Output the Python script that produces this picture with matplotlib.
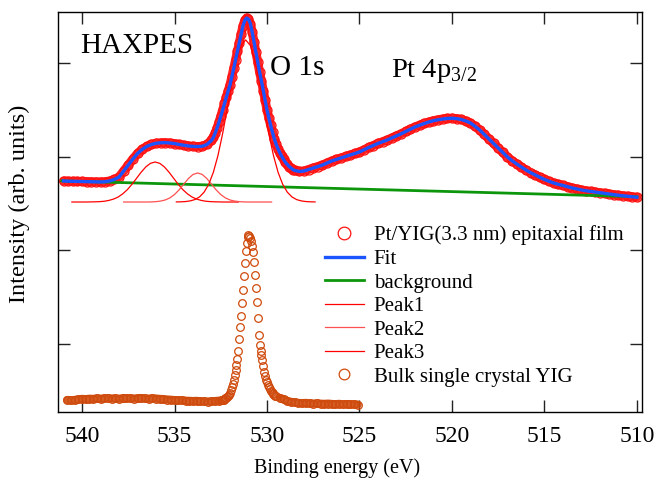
import numpy as np
import matplotlib.pyplot as plt

plt.rcParams['font.family'] = ['Liberation Serif', 'DejaVu Serif']
plt.rcParams['mathtext.fontset'] = 'custom'
plt.rcParams['mathtext.rm'] = 'Liberation Serif'

# Pt/YIG(3.3 nm) film: O 1s + Pt 4p3/2 region, binding energy in eV
film_energy = np.concatenate([np.linspace(541.0, 533.0, 33),
                              np.linspace(532.9, 528.6, 44),
                              np.linspace(528.5, 510.0, 75)])
film_counts = [
    2.740, 2.737, 2.736, 2.735, 2.734, 2.732, 2.731, 2.730, 2.729, 2.732,
    2.740, 2.756, 2.782, 2.846, 2.910, 2.974, 3.033, 3.076, 3.108, 3.129,
    3.142, 3.147, 3.149, 3.145, 3.139, 3.129, 3.121, 3.113, 3.109, 3.107,
    3.110, 3.129, 3.172,
    3.204, 3.252, 3.305, 3.364, 3.428, 3.497, 3.567, 3.636, 3.700, 3.764,
    3.850, 3.940, 4.031, 4.122, 4.212, 4.308, 4.394, 4.453, 4.479, 4.465,
    4.420, 4.330, 4.220, 4.115, 4.010, 3.903, 3.807, 3.705, 3.604, 3.497,
    3.412, 3.332, 3.257, 3.188, 3.129, 3.081, 3.038, 3.001, 2.969, 2.937,
    2.916, 2.894, 2.878, 2.862,
    2.852, 2.841, 2.846, 2.862, 2.878, 2.894, 2.910, 2.932, 2.953, 2.969,
    2.985, 3.001, 3.017, 3.033, 3.049, 3.073, 3.097, 3.118, 3.140, 3.158,
    3.177, 3.199, 3.220, 3.243, 3.268, 3.292, 3.316, 3.335, 3.353, 3.369,
    3.383, 3.393, 3.401, 3.407, 3.409, 3.405, 3.396, 3.380, 3.359, 3.323,
    3.284, 3.236, 3.188, 3.140, 3.092, 3.044, 2.996, 2.956, 2.921, 2.889,
    2.857, 2.829, 2.804, 2.779, 2.756, 2.736, 2.718, 2.704, 2.692, 2.678,
    2.665, 2.654, 2.644, 2.635, 2.628, 2.621, 2.615, 2.607, 2.601, 2.594,
    2.587, 2.582, 2.576, 2.571, 2.566]
# the fit sits on the data within its line width
fit_counts = film_counts

# linear background (end points)
bg_energy = [541.1, 510.0]
bg_counts = [2.740, 2.572]

# fitted components, drawn above a common offset
peak_offset = 2.515
peak1_energy = np.linspace(540.55, 531.55, 37)
peak1 = [0.000, 0.000, 0.000, 0.000, 0.001, 0.002, 0.004, 0.008, 0.017, 0.031,
         0.053, 0.087, 0.132, 0.189, 0.254, 0.319, 0.375, 0.413, 0.427, 0.413,
         0.375, 0.319, 0.254, 0.189, 0.132, 0.087, 0.053, 0.031, 0.017, 0.008,
         0.004, 0.002, 0.001, 0.000, 0.000, 0.000, 0.000]
peak2_energy = np.linspace(537.75, 529.75, 33)
peak2 = [0.000, 0.000, 0.000, 0.000, 0.000, 0.000, 0.001, 0.004, 0.010, 0.022,
         0.044, 0.080, 0.130, 0.191, 0.250, 0.294, 0.310, 0.294, 0.250, 0.191,
         0.130, 0.080, 0.044, 0.022, 0.010, 0.004, 0.001, 0.000, 0.000, 0.000,
         0.000, 0.000, 0.000]
peak3_energy = np.linspace(534.9, 527.4, 31)
peak3 = [0.001, 0.002, 0.005, 0.012, 0.026, 0.054, 0.105, 0.189, 0.317, 0.497,
         0.728, 0.995, 1.266, 1.507, 1.671, 1.730, 1.671, 1.507, 1.266, 0.995,
         0.728, 0.497, 0.317, 0.189, 0.105, 0.054, 0.026, 0.012, 0.005, 0.002,
         0.001]

# bulk single crystal YIG, O 1s
yig_energy_left = np.linspace(540.8, 532.6, 42)
yig_left = [0.402, 0.397, 0.402, 0.408, 0.413, 0.410, 0.415, 0.413, 0.418, 0.415,
            0.418, 0.421, 0.417, 0.419, 0.415, 0.420, 0.418, 0.421, 0.417, 0.419,
            0.422, 0.418, 0.415, 0.420, 0.417, 0.413, 0.410, 0.407, 0.404, 0.400,
            0.397, 0.399, 0.394, 0.392, 0.390, 0.392, 0.386, 0.388, 0.385, 0.387,
            0.390, 0.394]
yig_energy_peak = np.linspace(532.5, 529.5, 61)
yig_peak = [0.397, 0.402, 0.404, 0.407, 0.413, 0.418, 0.424, 0.431, 0.442, 0.456,
            0.477, 0.504, 0.536, 0.573, 0.616, 0.669, 0.723, 0.776, 0.840, 0.925,
            1.053, 1.181, 1.299, 1.438, 1.576, 1.726, 1.864, 1.993, 2.078, 2.137,
            2.163, 2.153, 2.131, 2.094, 2.046, 1.982, 1.875, 1.736, 1.598, 1.448,
            1.277, 1.096, 0.989, 0.925, 0.883, 0.829, 0.765, 0.704, 0.658, 0.616,
            0.589, 0.562, 0.536, 0.514, 0.498, 0.485, 0.474, 0.464, 0.456, 0.448,
            0.442]
yig_energy_right = np.linspace(529.3, 525.1, 22)
yig_right = [0.424, 0.408, 0.392, 0.381, 0.376, 0.370, 0.368, 0.370, 0.365, 0.363,
             0.366, 0.362, 0.360, 0.363, 0.359, 0.356, 0.360, 0.355, 0.358, 0.354,
             0.356, 0.353]

red = '#ff1010'
orange = '#cf4a0c'

fig = plt.figure(figsize=(6.59, 4.80), dpi=100)
ax = fig.add_axes([0.088, 0.1417, 0.886, 0.8333])

# film data: dense circles read as a thick band
ax.plot(film_energy, film_counts, color=red, lw=6.5, alpha=0.9, solid_capstyle='round')
ax.plot(film_energy, film_counts, 'o', mfc='none', mec=red, ms=6.5, mew=0.9,
        label='Pt/YIG(3.3 nm) epitaxial film')

ax.plot(bg_energy, bg_counts, color='#0c960c', lw=2.0, zorder=4, label='background')
ax.plot(peak1_energy, peak_offset + np.array(peak1), color='#ff0000', lw=0.9, zorder=4, label='Peak1')
ax.plot(peak2_energy, peak_offset + np.array(peak2), color='#ff5050', lw=0.9, zorder=4, label='Peak2')
ax.plot(peak3_energy, peak_offset + np.array(peak3), color='#ff0000', lw=0.9, zorder=4, label='Peak3')
ax.plot(film_energy, fit_counts, color='#1a55ff', lw=2.4, zorder=5, label='Fit')

for e, c in [(yig_energy_left, yig_left), (yig_energy_right, yig_right)]:
    ax.plot(e, c, color=orange, lw=6, alpha=0.9, solid_capstyle='round')
yig_e = np.concatenate([yig_energy_left, yig_energy_peak, yig_energy_right])
yig_c = yig_left + yig_peak + yig_right
ax.plot(yig_e, yig_c, 'o', mfc='none', mec=orange, ms=5.5, mew=0.9,
        label='Bulk single crystal YIG')

ax.set_xlim(541.3, 509.73)
ax.set_ylim(0.274, 4.543)
ax.set_xticks([540, 535, 530, 525, 520, 515, 510])
ax.set_yticks([1, 2, 3, 4])
ax.set_yticklabels([])
ax.tick_params(direction='in', length=8.5, width=1, top=True, right=True,
               labelsize=17, pad=10, color='#222222')
for s in ax.spines.values():
    s.set_linewidth(1)

ax.set_xlabel('Binding energy (eV)', fontsize=14.5)
ax.xaxis.set_label_coords(0.478, -0.115)
ax.set_ylabel('Intensity (arb. units)', fontsize=17.5)
ax.yaxis.set_label_coords(-0.048, 0.52)

ax.text(0.038, 0.898, 'HAXPES', transform=ax.transAxes, fontsize=21)
ax.text(0.363, 0.843, 'O 1s', transform=ax.transAxes, fontsize=21)
ax.text(0.571, 0.838, r'Pt 4p$_{3/2}$', transform=ax.transAxes, fontsize=20.5)

h, l = ax.get_legend_handles_labels()
order = ['Pt/YIG(3.3 nm) epitaxial film', 'Fit', 'background', 'Peak1', 'Peak2',
         'Peak3', 'Bulk single crystal YIG']
hd = dict(zip(l, h))
ax.legend([hd[k] for k in order], order, loc='upper left', bbox_to_anchor=(0.457, 0.466),
          frameon=False, fontsize=15, handlelength=1.87, handletextpad=0.48,
          labelspacing=0.19, borderpad=0, borderaxespad=0, markerscale=1.4)

fig.savefig('out.png', dpi=100)
